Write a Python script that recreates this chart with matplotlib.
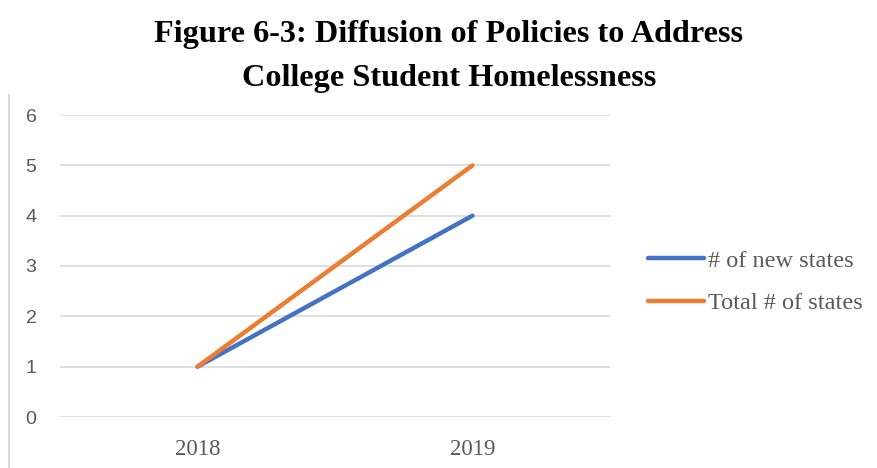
import matplotlib
matplotlib.use("Agg")
import matplotlib.pyplot as plt
from matplotlib.lines import Line2D

years = ["2018", "2019"]
new_states = [1, 4]
total_states = [1, 5]
y_ticks = [0, 1, 2, 3, 4, 5, 6]
title_lines = ["Figure 6-3: Diffusion of Policies to Address", "College Student Homelessness"]

W, H = 877, 468
fig = plt.figure(figsize=(W / 100, H / 100), dpi=100)
ax = fig.add_axes([60 / W, 1 - 417 / H, 550 / W, (417 - 115) / H])

x = list(range(len(years)))
ax.plot(x, new_states, color="#4472C4", lw=3.2, solid_capstyle="round", label="# of new states")
ax.plot(x, total_states, color="#ED7D31", lw=3.2, solid_capstyle="round", label="Total # of states")

ax.set_xlim(-0.5, len(years) - 0.5)
ax.set_ylim(0, 6)
ax.set_yticks(y_ticks)
ax.set_xticks(x)
ax.set_xticklabels(years, fontfamily="Liberation Serif", fontsize=16.5, color="#595959")
ax.set_yticklabels([str(v) for v in y_ticks], fontfamily="Liberation Sans", fontsize=14, color="#595959")
ax.tick_params(length=0)
ax.tick_params(axis="y", pad=17)
ax.tick_params(axis="x", pad=16)
ax.grid(axis="y", color="#D9D9D9", lw=1.2)
ax.set_axisbelow(True)
for s in ax.spines.values():
    s.set_visible(False)

# title, one text per line so the baselines sit where the reference has them
for line, base in zip(title_lines, [42, 86]):
    fig.text(449 / W, 1 - base / H, line, ha="center", va="baseline",
             fontfamily="Liberation Serif", fontweight="bold", fontsize=23.2)

leg = fig.legend(loc="center left", bbox_to_anchor=(648 / W, 1 - 282 / H), frameon=False,
                 borderpad=0, borderaxespad=0, handlelength=2.3, handletextpad=0.15,
                 labelspacing=0.85, prop={"family": "Liberation Serif", "size": 17.5})
for t in leg.get_texts():
    t.set_color("#595959")

# left border line
fig.add_artist(Line2D([9 / W, 9 / W], [0, 1 - 95 / H], color="#D9D9D9", lw=1.5))

fig.savefig("out.png", dpi=100)
